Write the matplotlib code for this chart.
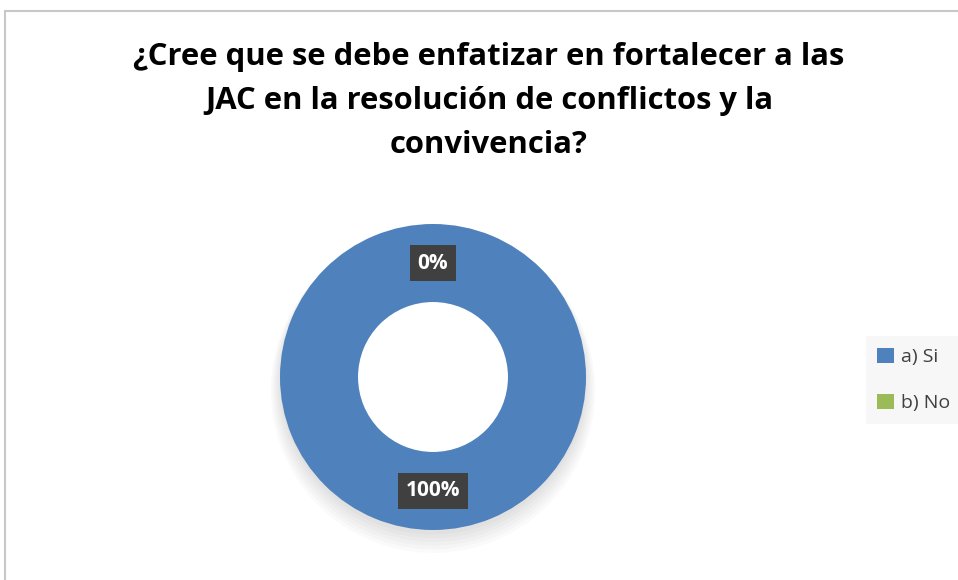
import matplotlib.pyplot as plt
from matplotlib.patches import Rectangle, Wedge

# data
categories = ["a) Si", "b) No"]
values = [100, 0]
colors = ["#4f81bd", "#9bbb59"]
title = "¿Cree que se debe enfatizar en fortalecer a las\nJAC en la resolución de conflictos y la\nconvivencia?"

plt.rcParams["font.family"] = ["Open Sans", "DejaVu Sans"]

fig = plt.figure(figsize=(9.58, 5.8), dpi=100)

# chart area border (left and top visible)
fig.patches.append(Rectangle((5 / 958, -0.1), 1.2, 1 - 11 / 580 + 0.1,
                             transform=fig.transFigure, fill=False,
                             edgecolor="#c8c8c8", linewidth=1.5))

fig.text(489 / 958, 1 - 101 / 580, title, ha="center", va="center",
         fontsize=22.3, fontweight="bold", linespacing=1.62, color="black")

ax = fig.add_axes([280 / 958, 50 / 580, 306 / 958, 306 / 580])
ax.set_xlim(-1, 1)
ax.set_ylim(-1, 1)
ax.set_aspect("equal")
ax.axis("off")

# soft shadow under the ring
for k in range(6):
    ax.add_patch(Wedge((0.0, -0.03 - k * 0.012), 1.0 + k * 0.012, 0, 360,
                       width=0.3, facecolor="black", alpha=0.02,
                       linewidth=0, zorder=0, clip_on=False))

wedges, texts, autotexts = ax.pie(
    values, colors=colors, startangle=90, counterclock=False, radius=1,
    wedgeprops=dict(width=0.51, edgecolor="none"),
    autopct=lambda p: f"{p:.0f}%", pctdistance=0.745,
)
for w in wedges:
    w.set_zorder(2)
for t in autotexts:
    t.set_color("white")
    t.set_fontweight("bold")
    t.set_fontsize(15)
    t.set_zorder(5)
    t.set_bbox(dict(boxstyle="square,pad=0.35", facecolor="#404040",
                    edgecolor="none"))
ax.set_xlim(-1, 1)
ax.set_ylim(-1, 1)

leg = fig.legend(wedges, categories, loc="center left",
                 bbox_to_anchor=(856 / 958, 1 - 380 / 580),
                 frameon=True, fontsize=14, handlelength=0.85,
                 handleheight=0.85, handletextpad=0.35, labelspacing=1.4,
                 borderpad=0.6, fancybox=False)
leg.get_frame().set_facecolor("#f6f6f6")
leg.get_frame().set_edgecolor("none")
for txt in leg.get_texts():
    txt.set_color("#404040")

fig.savefig("out.png", dpi=100)
